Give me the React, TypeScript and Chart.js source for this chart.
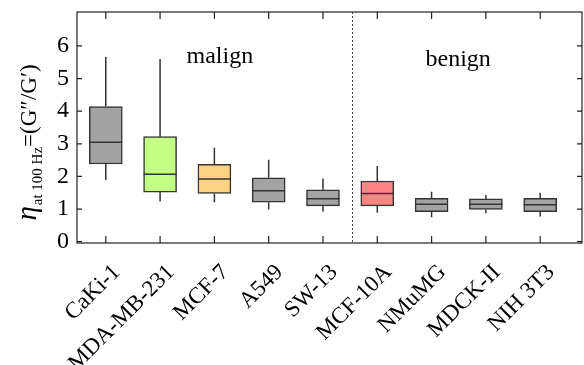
import { useEffect, useRef } from "react";
import { Chart, registerables } from "chart.js";

Chart.register(...registerables);

const categories = ["CaKi-1", "MDA-MB-231", "MCF-7", "A549", "SW-13", "MCF-10A", "NMuMG", "MDCK-II", "NIH 3T3"];
const whiskerLow = [1.89, 1.23, 1.21, 0.99, 0.92, 0.89, 0.75, 0.87, 0.77];
const q1 = [2.38, 1.52, 1.48, 1.21, 1.1, 1.1, 0.92, 0.99, 0.92];
const median = [3.05, 2.07, 1.92, 1.56, 1.32, 1.48, 1.15, 1.15, 1.13];
const q3 = [4.14, 3.22, 2.37, 1.96, 1.59, 1.86, 1.33, 1.31, 1.33];
const whiskerHigh = [5.66, 5.6, 2.88, 2.51, 1.94, 2.32, 1.53, 1.43, 1.5];
const yTicks = [0, 1, 2, 3, 4, 5, 6];
const groupLabels = ["malign", "benign"];
const boxColors = ["#a3a3a3", "#c2ff82", "#ffd383", "#a3a3a3", "#a3a3a3", "#ff8585", "#a3a3a3", "#a3a3a3", "#a3a3a3"];

const SERIF = "'Liberation Serif', 'Times New Roman', serif";

const boxPlugin = {
  id: "boxExtras",
  afterDatasetsDraw(chart: any) {
    const { ctx, scales } = chart;
    const xs = scales.x;
    const ys = scales.y;
    const meta = chart.getDatasetMeta(0);
    ctx.save();
    ctx.strokeStyle = "#333";
    ctx.lineWidth = 1.5;
    categories.forEach((_, i) => {
      const el = meta.data[i];
      const x = xs.getPixelForValue(i + 1);
      const half = el.width / 2;
      ctx.beginPath();
      ctx.moveTo(x, ys.getPixelForValue(q3[i]));
      ctx.lineTo(x, ys.getPixelForValue(whiskerHigh[i]));
      ctx.moveTo(x, ys.getPixelForValue(q1[i]));
      ctx.lineTo(x, ys.getPixelForValue(whiskerLow[i]));
      ctx.stroke();
      ctx.beginPath();
      const ym = ys.getPixelForValue(median[i]);
      ctx.moveTo(x - half, ym);
      ctx.lineTo(x + half, ym);
      ctx.stroke();
    });
    ctx.restore();
  },
  afterDraw(chart: any) {
    const { ctx, chartArea, scales } = chart;
    const xs = scales.x;
    const ys = scales.y;
    const { left, right, top, bottom } = chartArea;
    ctx.save();
    // dotted divider between groups
    ctx.strokeStyle = "#444";
    ctx.lineWidth = 1;
    ctx.setLineDash([2, 2]);
    const dx = Math.round(xs.getPixelForValue(5.53)) + 0.5;
    ctx.beginPath();
    ctx.moveTo(dx, top);
    ctx.lineTo(dx, bottom);
    ctx.stroke();
    ctx.setLineDash([]);
    // frame
    ctx.strokeStyle = "#222";
    ctx.lineWidth = 1.2;
    ctx.strokeRect(left, top, right - left, bottom - top);
    // inner ticks
    ctx.beginPath();
    yTicks.forEach((v) => {
      const y = ys.getPixelForValue(v);
      ctx.moveTo(left, y);
      ctx.lineTo(left + 5, y);
      ctx.moveTo(right, y);
      ctx.lineTo(right - 5, y);
    });
    categories.forEach((_, i) => {
      const x = xs.getPixelForValue(i + 1);
      ctx.moveTo(x, top);
      ctx.lineTo(x, top + 7);
      ctx.moveTo(x, bottom);
      ctx.lineTo(x, bottom - 7);
    });
    ctx.stroke();
    // group annotations
    ctx.fillStyle = "#000";
    ctx.font = `24px ${SERIF}`;
    ctx.textAlign = "center";
    ctx.textBaseline = "alphabetic";
    ctx.fillText(groupLabels[0], xs.getPixelForValue(3.1), ys.getPixelForValue(5.48));
    ctx.fillText(groupLabels[1], xs.getPixelForValue(7.49), ys.getPixelForValue(5.37));
    // y-axis title with subscript
    const parts = [
      { t: "η", font: `italic 29px ${SERIF}`, dy: 0 },
      { t: "at 100 Hz", font: `15px ${SERIF}`, dy: 6 },
      { t: "=(G″/G′)", font: `23px ${SERIF}`, dy: 0 },
    ];
    let total = 0;
    const widths = parts.map((p) => {
      ctx.font = p.font;
      const w = ctx.measureText(p.t).width;
      total += w;
      return w;
    });
    ctx.translate(36, 143);
    ctx.rotate(-Math.PI / 2);
    ctx.textAlign = "left";
    let u = -total / 2;
    parts.forEach((p, i) => {
      ctx.font = p.font;
      ctx.fillText(p.t, u, p.dy);
      u += widths[i] + (i === 0 ? 1 : 0);
    });
    ctx.restore();
  },
};

export default function App() {
  const ref = useRef<HTMLCanvasElement | null>(null);
  useEffect(() => {
    if (!ref.current) return;
    const chart = new Chart(ref.current, {
      type: "bar",
      data: {
        datasets: [
          {
            data: categories.map((_, i) => ({ x: i + 1, y: [q1[i], q3[i]] })) as any,
            backgroundColor: boxColors,
            borderColor: "#333",
            borderWidth: 1.5,
            borderSkipped: false,
            barThickness: 33,
          },
        ],
      },
      options: {
        animation: false,
        responsive: false,
        layout: { padding: { top: 12, right: 2, left: 0, bottom: 0 } },
        plugins: { legend: { display: false }, tooltip: { enabled: false } },
        scales: {
          x: {
            type: "linear",
            offset: false,
            min: 0.47,
            max: 9.77,
            grid: { display: false, drawTicks: false, offset: false },
            border: { display: false },
            afterBuildTicks: (s: any) => {
              s.ticks = categories.map((_, i) => ({ value: i + 1 }));
            },
            afterFit: (s: any) => {
              s.height = 122;
              s.paddingLeft = 0;
              s.paddingRight = 0;
            },
            ticks: {
              autoSkip: false,
              minRotation: 45,
              maxRotation: 45,
              padding: 16,
              labelOffset: 11,
              color: "#000",
              font: { family: SERIF, size: 23 },
              callback: (v: any) => categories[Math.round(Number(v)) - 1] ?? "",
            },
          },
          y: {
            min: -0.04,
            max: 7.04,
            grid: { display: false, drawTicks: false },
            border: { display: false },
            afterBuildTicks: (s: any) => {
              s.ticks = yTicks.map((v) => ({ value: v }));
            },
            afterFit: (s: any) => {
              s.width = 77;
              s.paddingTop = 0;
              s.paddingBottom = 0;
            },
            ticks: {
              padding: 8,
              color: "#000",
              font: { family: SERIF, size: 24 },
            },
          },
        },
      },
      plugins: [boxPlugin],
    });
    return () => chart.destroy();
  }, []);
  return (
    <div style={{ position: "fixed", left: 0, top: 0, width: 584, height: 365, background: "#fff" }}>
      <canvas ref={ref} width={584} height={365} />
    </div>
  );
}
